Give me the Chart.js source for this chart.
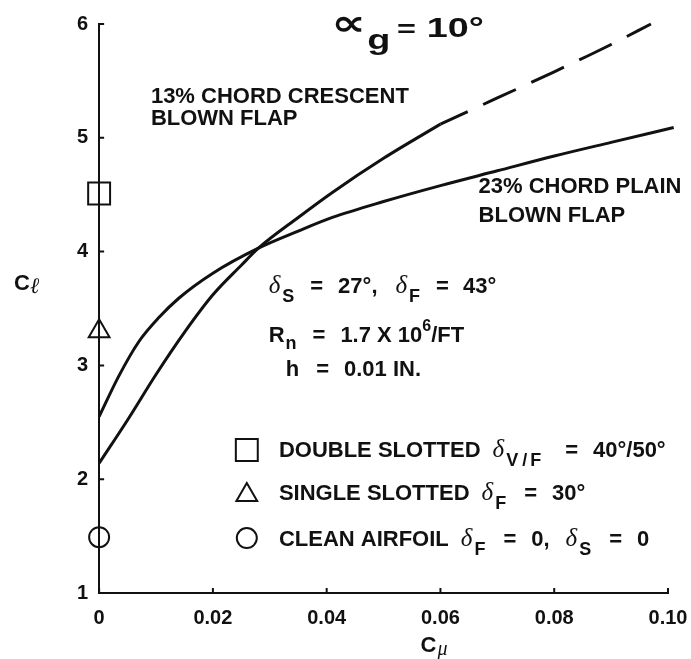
<!DOCTYPE html>
<html>
<head>
<meta charset="UTF-8" />
<title>Cl vs Cmu</title>
<script src="https://cdn.jsdelivr.net/npm/chart.js@4.4.0/dist/chart.umd.min.js"></script>
<style>
  html, body { margin: 0; padding: 0; background: #fff; }
  #wrap { width: 691px; height: 659px; }
</style>
</head>
<body>
<div id="wrap"><canvas id="clChart"></canvas></div>
<script>
// 23% chord plain blown flap
var cmuPlain = [0, 0.0035, 0.007, 0.0105, 0.014, 0.020, 0.028, 0.035, 0.041, 0.050, 0.060, 0.070, 0.080, 0.090, 0.101];
var clPlain  = [2.55, 2.91, 3.21, 3.42, 3.59, 3.81, 4.03, 4.18, 4.30, 4.44, 4.58, 4.71, 4.84, 4.96, 5.09];

// 13% chord crescent blown flap (measured part, then extrapolated)
var cmuCrescent = [0, 0.005, 0.010, 0.015, 0.020, 0.025, 0.028, 0.035, 0.041, 0.050, 0.060];
var clCrescent  = [2.14, 2.52, 2.92, 3.29, 3.62, 3.88, 4.03, 4.30, 4.52, 4.82, 5.12];
var cmuCrescentExt = [0.060, 0.070, 0.080, 0.090, 0.097];
var clCrescentExt  = [5.12, 5.35, 5.58, 5.82, 6.00];

// unblown reference configurations at Cmu = 0
var refNames = ['DOUBLE SLOTTED', 'SINGLE SLOTTED', 'CLEAN AIRFOIL'];
var refCmu = [0, 0, 0];
var refCl = [4.51, 3.30, 1.49];

var xTicks = [0, 0.02, 0.04, 0.06, 0.08, 0.10];
var yTicks = [1, 2, 3, 4, 5, 6];

var ink = '#111';
var TXT = 'bold 22px "Liberation Sans", Arial, sans-serif';
var SUB = 'bold 18px "Liberation Sans", Arial, sans-serif';
var SUP = 'bold 16px "Liberation Sans", Arial, sans-serif';
var DEL = 'italic 25px "Liberation Serif", serif';

function pts(xs, ys) {
  return xs.map(function (x, i) { return { x: x, y: ys[i] }; });
}

// draw a row of text pieces: [text, font, dy], or a plain number for an extra gap
function runs(ctx, x, y, parts) {
  parts.forEach(function (p) {
    if (typeof p === 'number') { x += p; return; }
    ctx.font = p[1];
    ctx.fillText(p[0], x, y + (p[2] || 0));
    x += ctx.measureText(p[0]).width;
  });
}

var notes = {
  id: 'notes',
  afterDraw: function (chart) {
    var ctx = chart.ctx, a = chart.chartArea;
    var X = function (v) { return chart.scales.x.getPixelForValue(v); };
    var Y = function (v) { return chart.scales.y.getPixelForValue(v); };
    ctx.save();
    ctx.fillStyle = ink;
    ctx.strokeStyle = ink;
    ctx.textBaseline = 'alphabetic';
    ctx.textAlign = 'left';

    // inward tick marks
    ctx.lineWidth = 2;
    ctx.beginPath();
    yTicks.forEach(function (v) { ctx.moveTo(a.left, Y(v)); ctx.lineTo(a.left + 5, Y(v)); });
    xTicks.forEach(function (v) { ctx.moveTo(X(v), a.bottom); ctx.lineTo(X(v), a.bottom - 5); });
    ctx.stroke();

    // axis titles
    runs(ctx, a.left - 85, Y(3.66), [['C', TXT], ['ℓ', 'italic 22px "Liberation Serif", serif', 3]]);
    runs(ctx, X(0.0565), a.bottom + 59, [['C', TXT], 1, ['μ', 'italic 20px "Liberation Serif", serif', 3]]);

    // title  alpha_g = 10 deg
    ctx.save();
    ctx.translate(X(0.0408), Y(5.886));
    ctx.scale(1.35, 1);
    runs(ctx, 0, 0, [['∝', 'bold 36px "DejaVu Sans", sans-serif', -2], 1, ['g', 'bold 28px "Liberation Sans", Arial', 12], 5,
      ['=', 'bold 24px "Liberation Sans", Arial'], 8, ['10°', 'bold 28px "Liberation Sans", Arial']]);
    ctx.restore();

    // curve labels
    runs(ctx, X(0.0091), Y(5.306), [['13% CHORD CRESCENT', TXT]]);
    runs(ctx, X(0.0091), Y(5.11), [['BLOWN FLAP', TXT]]);
    runs(ctx, X(0.0667), Y(4.515), [['23% CHORD PLAIN', TXT]]);
    runs(ctx, X(0.0667), Y(4.26), [['BLOWN FLAP', TXT]]);

    // test conditions
    runs(ctx, X(0.0298), Y(3.636), [['δ', DEL], 2, ['S', SUB, 9], 16, ['=', TXT], 15, ['27°,', TXT], 18,
      ['δ', DEL], 2, ['F', SUB, 9], 16, ['=', TXT], 14, ['43°', TXT]]);
    runs(ctx, X(0.0298), Y(3.206), [['R', TXT], 1, ['n', SUB, 7], 16, ['=', TXT], 15, ['1.7 X 10', TXT],
      ['6', SUP, -11], ['/FT', TXT]]);
    runs(ctx, X(0.0328), Y(2.907), [['h', TXT], 17, ['=', TXT], 15, ['0.01 IN.', TXT]]);

    // key for the reference symbols
    var rowCl = [2.257, 1.879, 1.483];
    var styles = ['rect', 'triangle', 'circle'];
    var radii = [15.5, 12, 10];
    var tails = [
      [['V', SUB, 9], 4, ['/', SUB, 9], 3, ['F', SUB, 9], 24, ['=', TXT], 15, ['40°/50°', TXT]],
      [['F', SUB, 9], 18, ['=', TXT], 15, ['30°', TXT]],
      [['F', SUB, 9], 18, ['=', TXT], 15, ['0,', TXT], 16, ['δ', DEL], 2, ['S', SUB, 9], 18, ['=', TXT], 15, ['0', TXT]]
    ];
    refNames.forEach(function (name, i) {
      var cy = Y(rowCl[i]);
      ctx.save();
      ctx.lineWidth = 2;
      ctx.fillStyle = 'rgba(0,0,0,0)';
      Chart.helpers.drawPoint(ctx, { pointStyle: styles[i], radius: radii[i], borderWidth: 2 }, X(0.02596), cy + (i === 1 ? 2 : 0));
      ctx.restore();
      runs(ctx, X(0.0316), cy + 7.5, [[name, TXT], 12, ['δ', DEL], 2].concat(tails[i]));
    });
    ctx.restore();
  }
};

new Chart(document.getElementById('clChart'), {
  type: 'scatter',
  data: {
    datasets: [
      {
        data: pts(cmuPlain, clPlain),
        showLine: true, borderColor: ink, borderWidth: 3, pointRadius: 0,
        cubicInterpolationMode: 'monotone', clip: false
      },
      {
        data: pts(cmuCrescent, clCrescent),
        showLine: true, borderColor: ink, borderWidth: 3, pointRadius: 0,
        cubicInterpolationMode: 'monotone', clip: false
      },
      {
        data: pts(cmuCrescentExt, clCrescentExt),
        showLine: true, borderColor: ink, borderWidth: 3, pointRadius: 0,
        borderDash: [36, 17], borderDashOffset: 6, cubicInterpolationMode: 'monotone', clip: false
      },
      {
        data: pts(refCmu, refCl),
        showLine: false, borderColor: ink, backgroundColor: 'rgba(0,0,0,0)', borderWidth: 2,
        pointStyle: ['rect', 'triangle', 'circle'], pointRadius: [15.5, 12, 10], clip: false
      }
    ]
  },
  options: {
    responsive: true,
    maintainAspectRatio: false,
    animation: false,
    layout: { padding: { left: 66, right: 0, top: 24, bottom: 16 } },
    plugins: { legend: { display: false }, tooltip: { enabled: false } },
    scales: {
      x: {
        type: 'linear', min: 0, max: 0.1,
        grid: { display: false, drawTicks: false },
        border: { display: true, color: ink, width: 2 },
        afterBuildTicks: function (s) { s.ticks = xTicks.map(function (v) { return { value: v }; }); },
        // leave only room for half of the last tick label on the right
        afterFit: function (s) { s.paddingRight = 23; },
        ticks: {
          color: ink, padding: 13,
          font: { family: '"Liberation Sans", Arial, sans-serif', size: 20, weight: 'bold' },
          callback: function (v) { return v === 0 ? '0' : v.toFixed(2); }
        }
      },
      y: {
        type: 'linear', min: 1, max: 6,
        grid: { display: false, drawTicks: false },
        border: { display: true, color: ink, width: 2 },
        afterBuildTicks: function (s) { s.ticks = yTicks.map(function (v) { return { value: v }; }); },
        ticks: {
          color: ink, padding: 11,
          font: { family: '"Liberation Sans", Arial, sans-serif', size: 20, weight: 'bold' }
        }
      }
    }
  },
  plugins: [notes]
});
</script>
</body>
</html>
